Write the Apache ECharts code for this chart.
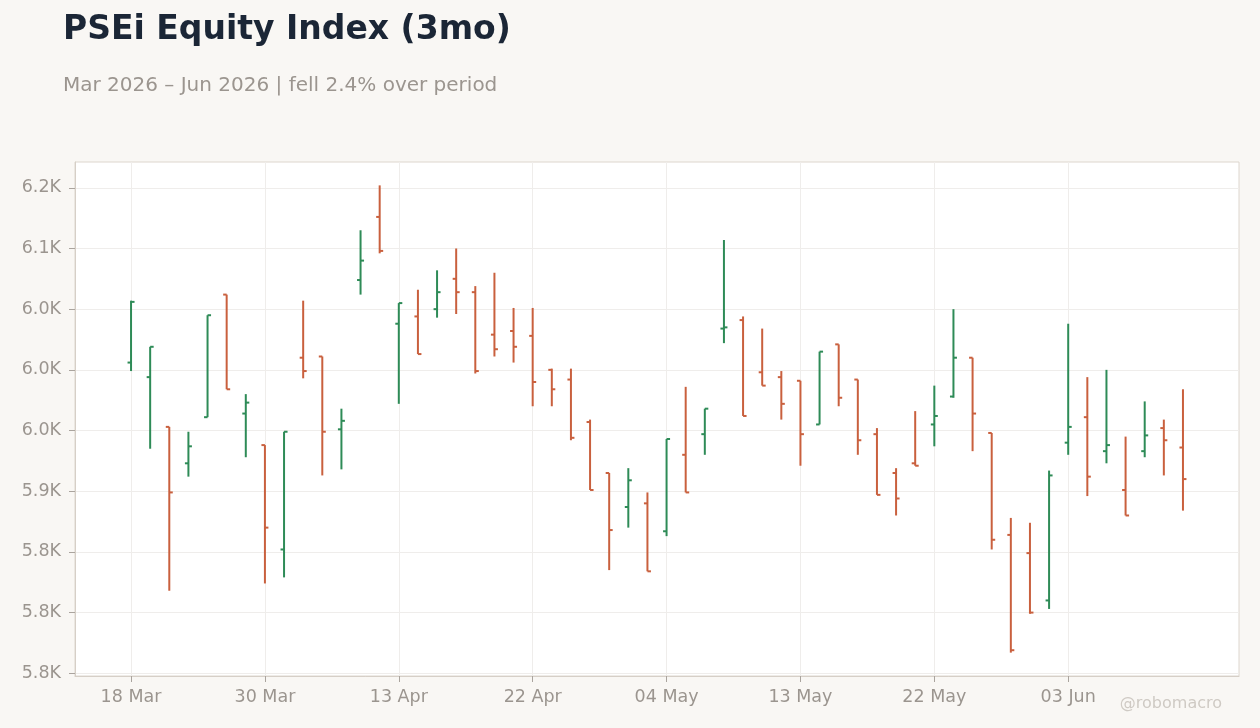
<!DOCTYPE html>
<html>
<head>
<meta charset="utf-8">
<title>PSEi Equity Index (3mo)</title>
<script src="https://cdn.jsdelivr.net/npm/echarts@6/dist/echarts.min.js"></script>
<style>
	html, body { margin: 0; padding: 0; background: #f9f7f4; }
	#chart { width: 1260px; height: 728px; }
</style>
</head>
<body>
<div id="chart"></div>
<script>
// trading days, one bar each
var dates = ['18 Mar','19 Mar','23 Mar','24 Mar','25 Mar','26 Mar','27 Mar','30 Mar','31 Mar','01 Apr',
	'06 Apr','07 Apr','08 Apr','10 Apr','13 Apr','14 Apr','15 Apr','16 Apr','17 Apr','20 Apr',
	'21 Apr','22 Apr','23 Apr','24 Apr','27 Apr','28 Apr','29 Apr','30 Apr','04 May','05 May',
	'06 May','07 May','08 May','11 May','12 May','13 May','14 May','15 May','18 May','19 May',
	'20 May','21 May','22 May','25 May','26 May','28 May','29 May','01 Jun','02 Jun','03 Jun',
	'04 Jun','05 Jun','08 Jun','09 Jun','10 Jun','11 Jun'];

var opens  = [6006,5994,5953,5923,5961,6062,5964,5938,5852,6010,6011,5951,6074,6126,6038,6044,6050,6075,6064,6029,
	6032,6028,6000,5992,5957,5915,5887,5890,5867,5930,5947,6034,6041,5998,5994,5991,5955,6021,5992,5947,
	5915,5923,5955,5978,6010,5948,5864,5849,5810,5940,5961,5933,5901,5933,5952,5936];
var highs  = [6057,6019,5953,5949,6045,6062,5980,5938,5949,6057,6011,5968,6115,6152,6055,6066,6082,6100,6069,6080,
	6051,6051,6001,6001,5959,5915,5919,5899,5943,5986,5968,6107,6044,6034,5999,5991,6015,6021,5992,5952,
	5919,5966,5987,6050,6010,5948,5878,5874,5917,6038,5994,6000,5945,5974,5959,5984];
var lows   = [5999,5935,5818,5912,5961,5984,5928,5824,5829,5993,5913,5918,6062,6096,5972,6013,6043,6046,5997,6011,
	6006,5970,5970,5942,5901,5835,5870,5834,5863,5899,5930,6022,5962,5987,5959,5921,5955,5970,5930,5897,
	5880,5921,5937,5977,5933,5852,5767,5799,5803,5930,5896,5923,5880,5928,5913,5884];
var closes = [6056,6019,5899,5937,6045,5984,5973,5870,5949,5999,5949,5958,6090,6098,6055,6013,6064,6064,5999,6017,
	6019,5990,5984,5944,5901,5868,5909,5834,5943,5899,5968,6035,5962,5987,5972,5947,6015,5977,5942,5897,
	5894,5921,5962,6010,5964,5860,5769,5800,5913,5953,5912,5938,5880,5946,5942,5910];

var labelIdx = [0,7,14,21,28,35,42,49];
var yTicks = [5750,5800,5850,5900,5950,6000,6050,6100,6150];

var UP = '#2e8b57';
var DOWN = '#c9603e';
var GREY = '#9b958f';
var FONT = 'DejaVu Sans';

var seriesData = [];
for (var i = 0; i < dates.length; i++) {
	seriesData.push([i, opens[i], closes[i], lows[i], highs[i]]);
}

var lo = Math.min.apply(null, lows);
var hi = Math.max.apply(null, highs);
var pad = (hi - lo) * 0.05;

function renderOHLC(params, api) {
	var x = api.value(0);
	var o = api.coord([x, api.value(1)]);
	var c = api.coord([x, api.value(2)]);
	var l = api.coord([x, api.value(3)]);
	var h = api.coord([x, api.value(4)]);
	var color = api.value(2) >= api.value(1) ? UP : DOWN;
	var w = 3.5;
	var style = { stroke: color, lineWidth: 2 };
	return {
		type: 'group',
		children: [
			{ type: 'line', shape: { x1: h[0], y1: h[1], x2: l[0], y2: l[1] }, style: style },
			{ type: 'line', shape: { x1: o[0] - w, y1: o[1], x2: o[0], y2: o[1] }, style: style },
			{ type: 'line', shape: { x1: c[0], y1: c[1], x2: c[0] + w, y2: c[1] }, style: style }
		]
	};
}

var chart = echarts.init(document.getElementById('chart'));

var option = {
	backgroundColor: '#f9f7f4',
	animation: false,
	title: [
		{
			text: 'PSEi Equity Index (3mo)',
			left: 63, top: 10, padding: 0,
			textStyle: { fontFamily: FONT, fontSize: 33, fontWeight: 'bold', color: '#1b2636', lineHeight: 40 }
		},
		{
			text: 'Mar 2026 \u2013 Jun 2026 | fell 2.4% over period',
			left: 63, top: 74, padding: 0,
			textStyle: { fontFamily: FONT, fontSize: 20, fontWeight: 'normal', color: GREY, lineHeight: 24 }
		}
	],
	graphic: [{
		type: 'text',
		right: 38, top: 696,
		style: { text: '@robomacro', font: '16px "DejaVu Sans"', fill: '#cfcac4' }
	}],
	grid: {
		left: 75, right: 21, top: 162, bottom: 52,
		show: true,
		backgroundColor: '#ffffff',
		borderColor: '#ddd6ce',
		borderWidth: 1
	},
	xAxis: {
		type: 'value',
		min: -2.93,
		max: 57.93,
		axisLine: { show: true, onZero: false, lineStyle: { color: '#d6cfc7' } },
		axisTick: { show: true, length: 6, customValues: labelIdx, lineStyle: { color: '#aaa49e' } },
		axisLabel: {
			customValues: labelIdx,
			margin: 12,
			color: GREY,
			fontFamily: FONT,
			fontSize: 17.5,
			formatter: function(v) { return dates[Math.round(v)] || ''; }
		},
		splitLine: { show: true, lineStyle: { color: '#efedeb', width: 1 } }
	},
	yAxis: {
		type: 'value',
		min: lo - pad,
		max: hi + pad,
		axisLine: { show: true, onZero: false, lineStyle: { color: '#d6cfc7' } },
		axisTick: { show: true, length: 6, customValues: yTicks, lineStyle: { color: '#aaa49e' } },
		axisLabel: {
			customValues: yTicks,
			margin: 14,
			color: GREY,
			fontFamily: FONT,
			fontSize: 17.5,
			formatter: function(v) { return (v / 1000).toFixed(1) + 'K'; }
		},
		splitLine: { show: true, lineStyle: { color: '#efedeb', width: 1 } }
	},
	series: [{
		type: 'custom',
		name: 'PSEi',
		renderItem: renderOHLC,
		encode: { x: 0, y: [1, 2, 3, 4] },
		data: seriesData
	}]
};

chart.setOption(option);
</script>
</body>
</html>
